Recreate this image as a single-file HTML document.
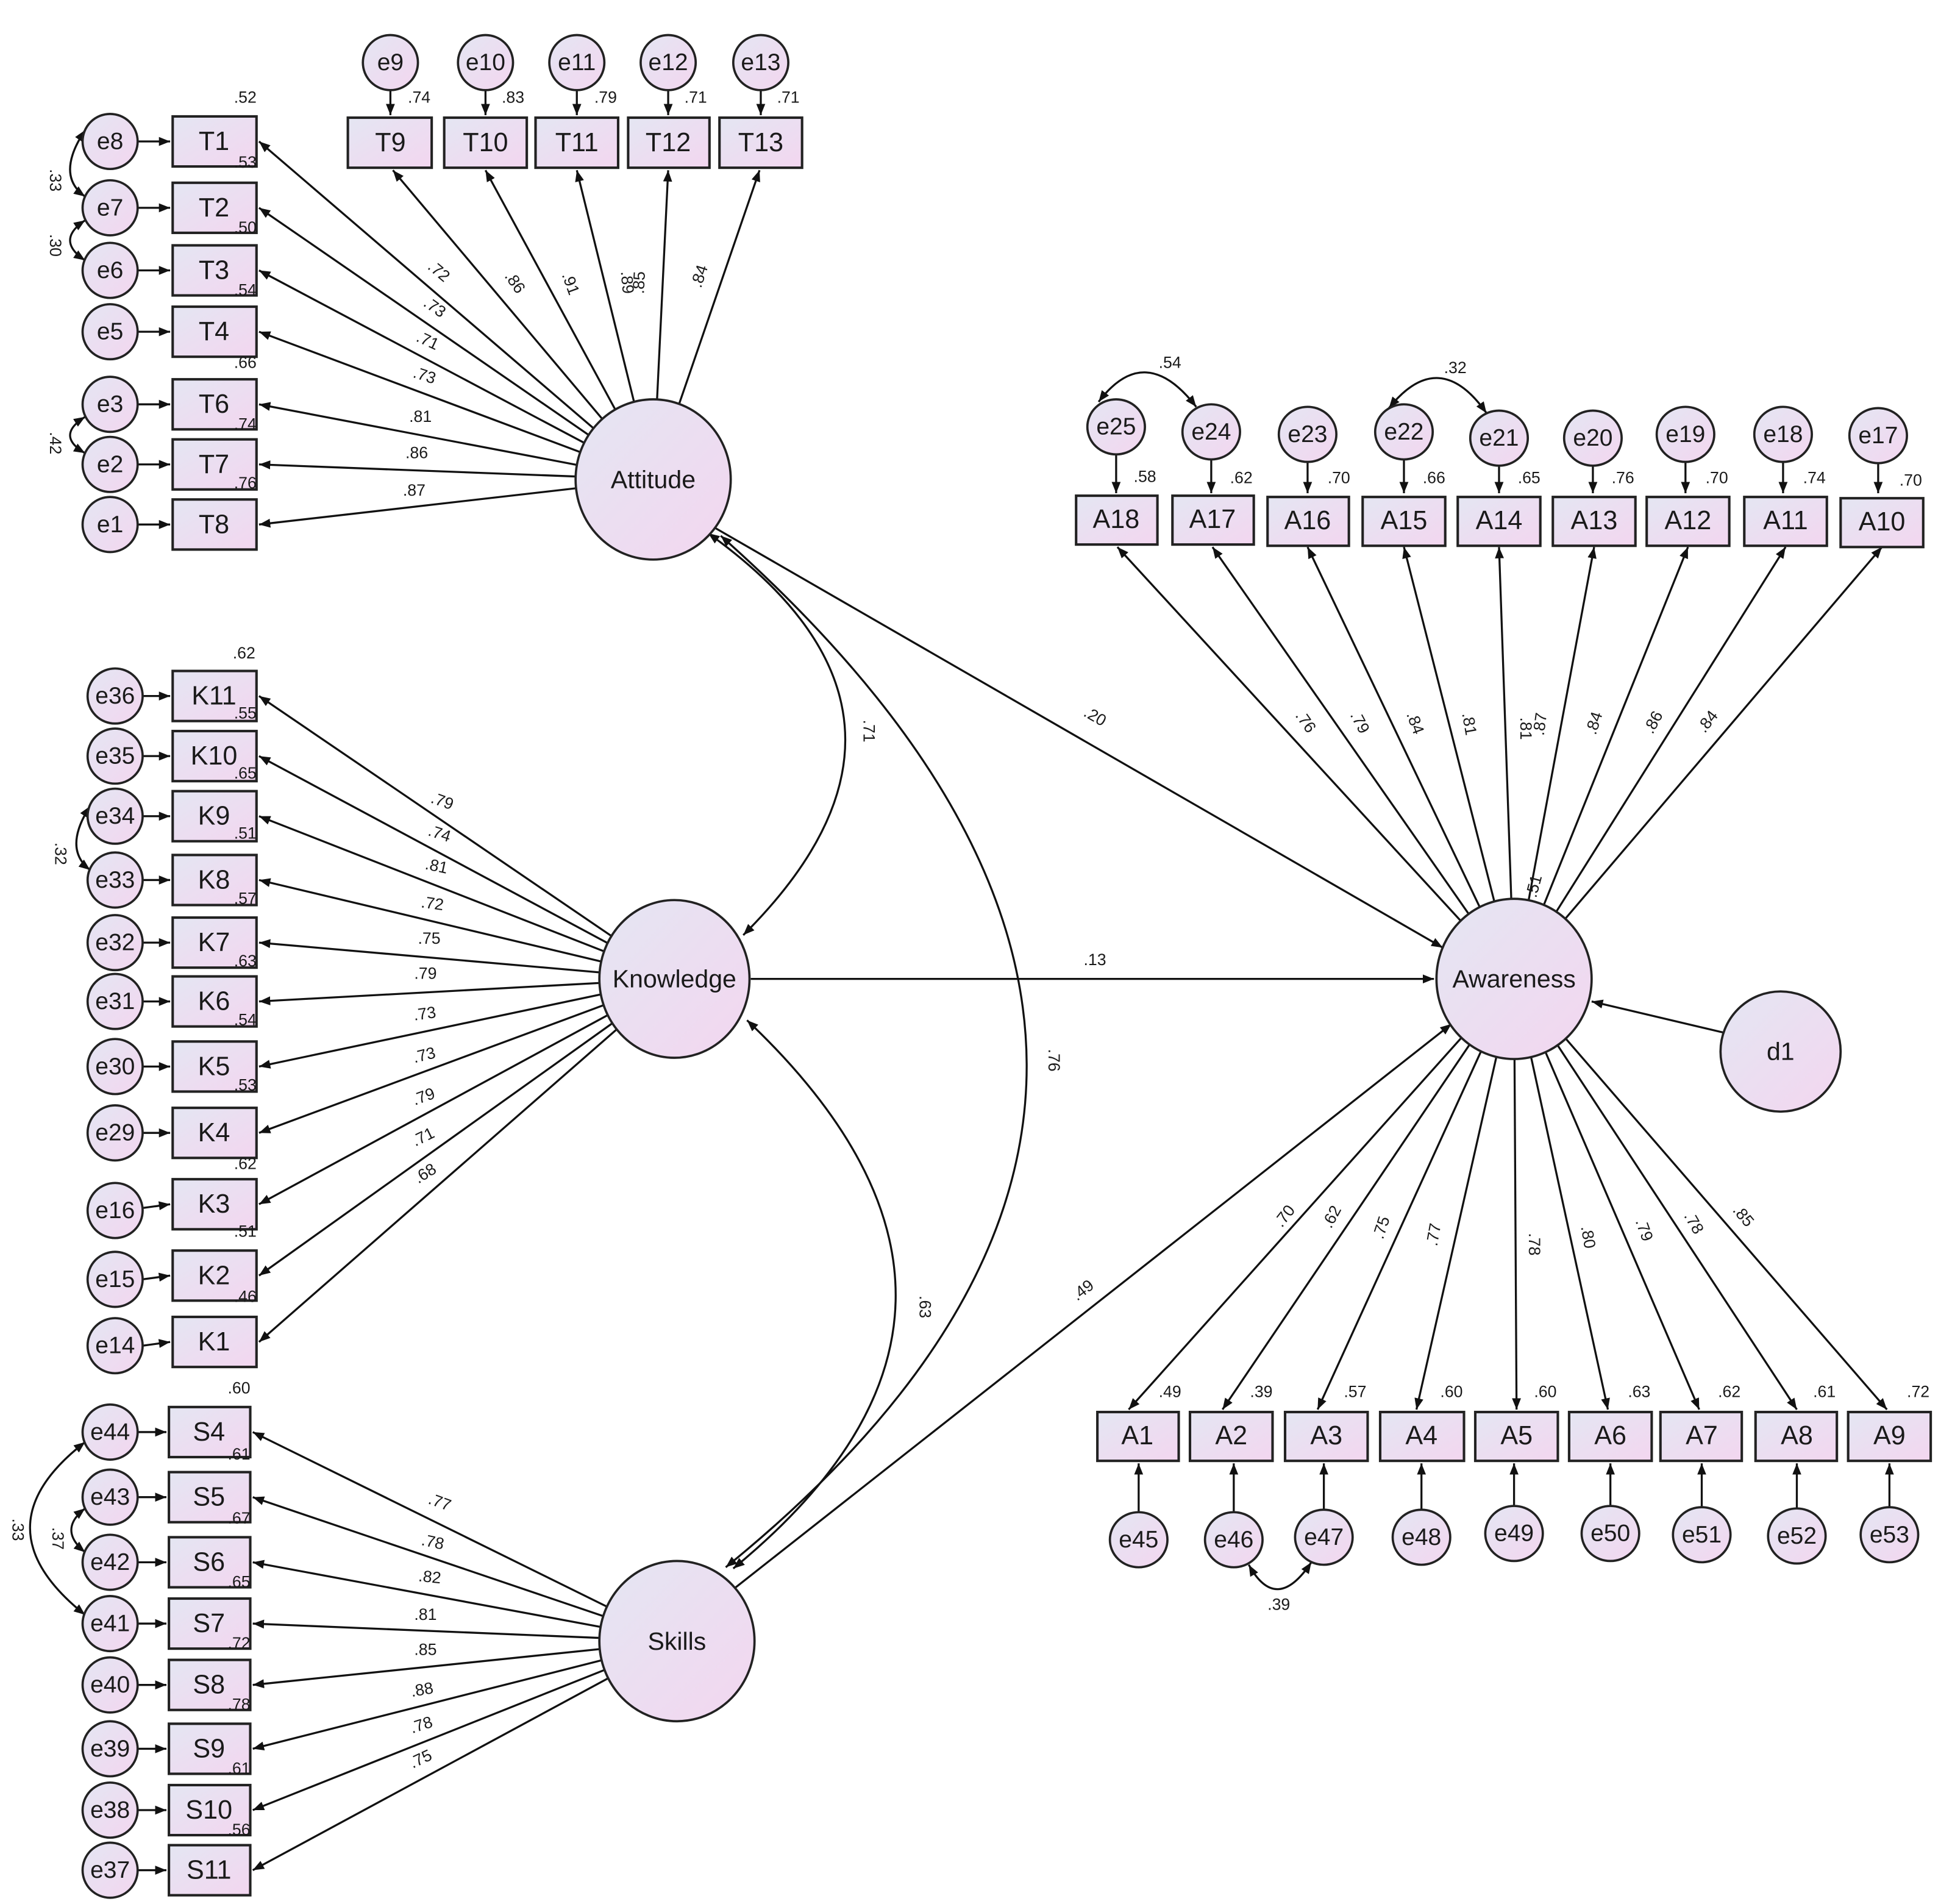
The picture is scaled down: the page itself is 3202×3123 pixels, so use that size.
<!DOCTYPE html>
<html><head><meta charset="utf-8"><style>
html,body{margin:0;padding:0;background:#fff}
svg{display:block}
text{font-family:"Liberation Sans",Arial,sans-serif;fill:#1a1a1a}
.b{font-size:21px;text-anchor:middle;dominant-baseline:central}
.e{font-size:19px;text-anchor:middle;dominant-baseline:central}
.l{font-size:20px;text-anchor:middle;dominant-baseline:central}
.s{font-size:13px;text-anchor:middle;fill:#333}
.ln{stroke:#111;stroke-width:1.6;fill:none}
.bx{fill:url(#g);stroke:#222;stroke-width:2}
.ci{fill:url(#g);stroke:#222;stroke-width:1.8}
</style></head><body>
<svg width="3202" height="3123" viewBox="0 0 1560 1521" preserveAspectRatio="none" xmlns="http://www.w3.org/2000/svg">
<defs>
<linearGradient id="g" x1="0" y1="0" x2="1" y2="1"><stop offset="0" stop-color="#e4e6f2"/><stop offset="1" stop-color="#f3d6f0"/></linearGradient>
<marker id="a" viewBox="0 0 10 10" refX="10" refY="5" markerWidth="9" markerHeight="9" markerUnits="userSpaceOnUse" orient="auto-start-reverse"><path d="M0,1 L10,5 L0,9 z" fill="#111"/></marker>
</defs>
<g class="ln" marker-end="url(#a)">
<line x1="522" y1="383" x2="207" y2="113"/><line x1="522" y1="383" x2="207" y2="166"/><line x1="522" y1="383" x2="207" y2="216"/><line x1="522" y1="383" x2="207" y2="265"/><line x1="522" y1="383" x2="207" y2="323"/><line x1="522" y1="383" x2="207" y2="371"/><line x1="522" y1="383" x2="207" y2="419"/>
<line x1="522" y1="383" x2="314" y2="136"/><line x1="522" y1="383" x2="388" y2="136"/><line x1="522" y1="383" x2="461" y2="136"/><line x1="522" y1="383" x2="534" y2="136"/><line x1="522" y1="383" x2="607" y2="136"/>
<line x1="539" y1="782" x2="207" y2="556"/><line x1="539" y1="782" x2="207" y2="604"/><line x1="539" y1="782" x2="207" y2="652"/><line x1="539" y1="782" x2="207" y2="703"/><line x1="539" y1="782" x2="207" y2="753"/><line x1="539" y1="782" x2="207" y2="800"/><line x1="539" y1="782" x2="207" y2="852"/><line x1="539" y1="782" x2="207" y2="905"/><line x1="539" y1="782" x2="207" y2="962"/><line x1="539" y1="782" x2="207" y2="1019"/><line x1="539" y1="782" x2="207" y2="1072"/>
<line x1="541" y1="1311" x2="202" y2="1144"/><line x1="541" y1="1311" x2="202" y2="1196"/><line x1="541" y1="1311" x2="202" y2="1248"/><line x1="541" y1="1311" x2="202" y2="1297"/><line x1="541" y1="1311" x2="202" y2="1346"/><line x1="541" y1="1311" x2="202" y2="1397"/><line x1="541" y1="1311" x2="202" y2="1446"/><line x1="541" y1="1311" x2="202" y2="1494"/>
<line x1="1210" y1="782" x2="893" y2="437"/><line x1="1210" y1="782" x2="969" y2="437"/><line x1="1210" y1="782" x2="1045" y2="437"/><line x1="1210" y1="782" x2="1122" y2="437"/><line x1="1210" y1="782" x2="1198" y2="437"/><line x1="1210" y1="782" x2="1274" y2="437"/><line x1="1210" y1="782" x2="1349" y2="437"/><line x1="1210" y1="782" x2="1427" y2="437"/><line x1="1210" y1="782" x2="1504" y2="437"/>
<line x1="1210" y1="782" x2="902" y2="1126"/><line x1="1210" y1="782" x2="977" y2="1126"/><line x1="1210" y1="782" x2="1053" y2="1126"/><line x1="1210" y1="782" x2="1132" y2="1126"/><line x1="1210" y1="782" x2="1212" y2="1126"/><line x1="1210" y1="782" x2="1285" y2="1126"/><line x1="1210" y1="782" x2="1358" y2="1126"/><line x1="1210" y1="782" x2="1436" y2="1126"/><line x1="1210" y1="782" x2="1508" y2="1126"/>
<line x1="565" y1="418" x2="1153" y2="757"/><line x1="600" y1="782" x2="1146" y2="782"/><line x1="588" y1="1268" x2="1160" y2="818"/><line x1="1378" y1="825" x2="1272" y2="800"/>
<line x1="110" y1="113" x2="136" y2="113"/><line x1="110" y1="166" x2="136" y2="166"/><line x1="110" y1="216" x2="136" y2="216"/><line x1="110" y1="265" x2="136" y2="265"/><line x1="110" y1="323" x2="136" y2="323"/><line x1="110" y1="371" x2="136" y2="371"/><line x1="110" y1="419" x2="136" y2="419"/>
<line x1="114" y1="556" x2="136" y2="556"/><line x1="114" y1="604" x2="136" y2="604"/><line x1="114" y1="652" x2="136" y2="652"/><line x1="114" y1="703" x2="136" y2="703"/><line x1="114" y1="753" x2="136" y2="753"/><line x1="114" y1="800" x2="136" y2="800"/><line x1="114" y1="852" x2="136" y2="852"/><line x1="114" y1="905" x2="136" y2="905"/><line x1="114" y1="965" x2="136" y2="962"/><line x1="114" y1="1022" x2="136" y2="1019"/><line x1="114" y1="1075" x2="136" y2="1072"/>
<line x1="110" y1="1144" x2="133" y2="1144"/><line x1="110" y1="1196" x2="133" y2="1196"/><line x1="110" y1="1248" x2="133" y2="1248"/><line x1="110" y1="1297" x2="133" y2="1297"/><line x1="110" y1="1346" x2="133" y2="1346"/><line x1="110" y1="1397" x2="133" y2="1397"/><line x1="110" y1="1446" x2="133" y2="1446"/><line x1="110" y1="1494" x2="133" y2="1494"/>
<line x1="312" y1="72" x2="312" y2="92"/><line x1="388" y1="72" x2="388" y2="92"/><line x1="461" y1="72" x2="461" y2="92"/><line x1="534" y1="72" x2="534" y2="92"/><line x1="608" y1="72" x2="608" y2="92"/>
<line x1="892" y1="363" x2="892" y2="394"/><line x1="968" y1="367" x2="968" y2="394"/><line x1="1045" y1="369" x2="1045" y2="394"/><line x1="1122" y1="367" x2="1122" y2="394"/><line x1="1198" y1="372" x2="1198" y2="394"/><line x1="1273" y1="372" x2="1273" y2="394"/><line x1="1347" y1="369" x2="1347" y2="394"/><line x1="1425" y1="369" x2="1425" y2="394"/><line x1="1501" y1="370" x2="1501" y2="394"/>
<line x1="910" y1="1208" x2="910" y2="1169"/><line x1="986" y1="1208" x2="986" y2="1169"/><line x1="1058" y1="1206" x2="1058" y2="1169"/><line x1="1136" y1="1206" x2="1136" y2="1169"/><line x1="1210" y1="1203" x2="1210" y2="1169"/><line x1="1287" y1="1203" x2="1287" y2="1169"/><line x1="1360" y1="1204" x2="1360" y2="1169"/><line x1="1436" y1="1205" x2="1436" y2="1169"/><line x1="1510" y1="1204" x2="1510" y2="1169"/>
</g>
<g class="ln" marker-start="url(#a)" marker-end="url(#a)">
<path d="M566,426 Q770,572 594,747"/>
<path d="M576,428 Q1063,860 580,1252"/>
<path d="M597,815 Q840,1045 586,1253"/>
<path d="M68,104 Q44,140 68,157"/><path d="M68,176 Q44,192 68,208"/><path d="M68,333 Q44,348 68,362"/>
<path d="M72,644 Q50,678 72,695"/>
<path d="M68,1152 Q-20,1220 68,1290"/><path d="M68,1205 Q46,1222 68,1240"/>
<path d="M878,321 Q915,272 956,325"/><path d="M1110,326 Q1150,276 1188,330"/>
<path d="M998,1250 Q1020,1290 1048,1248"/>
</g>
<g class="bx">
<rect x="138" y="93" width="67" height="40"/><rect x="138" y="146" width="67" height="40"/><rect x="138" y="196" width="67" height="40"/><rect x="138" y="245" width="67" height="40"/><rect x="138" y="303" width="67" height="40"/><rect x="138" y="351" width="67" height="40"/><rect x="138" y="399" width="67" height="40"/>
<rect x="278" y="94" width="67" height="40"/><rect x="355" y="94" width="66" height="40"/><rect x="428" y="94" width="66" height="40"/><rect x="502" y="94" width="65" height="40"/><rect x="575" y="94" width="66" height="40"/>
<rect x="138" y="536" width="67" height="40"/><rect x="138" y="584" width="67" height="40"/><rect x="138" y="632" width="67" height="40"/><rect x="138" y="683" width="67" height="40"/><rect x="138" y="733" width="67" height="40"/><rect x="138" y="780" width="67" height="40"/><rect x="138" y="832" width="67" height="40"/><rect x="138" y="885" width="67" height="40"/><rect x="138" y="942" width="67" height="40"/><rect x="138" y="999" width="67" height="40"/><rect x="138" y="1052" width="67" height="40"/>
<rect x="135" y="1124" width="65" height="40"/><rect x="135" y="1176" width="65" height="40"/><rect x="135" y="1228" width="65" height="40"/><rect x="135" y="1277" width="65" height="40"/><rect x="135" y="1326" width="65" height="40"/><rect x="135" y="1377" width="65" height="40"/><rect x="135" y="1426" width="65" height="40"/><rect x="135" y="1474" width="65" height="40"/>
<rect x="860" y="396" width="65" height="39"/><rect x="937" y="396" width="65" height="39"/><rect x="1013" y="397" width="65" height="39"/><rect x="1089" y="397" width="66" height="39"/><rect x="1165" y="397" width="66" height="39"/><rect x="1241" y="397" width="66" height="39"/><rect x="1316" y="397" width="66" height="39"/><rect x="1394" y="397" width="66" height="39"/><rect x="1471" y="398" width="66" height="39"/>
<rect x="877" y="1128" width="65" height="39"/><rect x="951" y="1128" width="66" height="39"/><rect x="1027" y="1128" width="66" height="39"/><rect x="1103" y="1128" width="67" height="39"/><rect x="1179" y="1128" width="66" height="39"/><rect x="1254" y="1128" width="66" height="39"/><rect x="1327" y="1128" width="65" height="39"/><rect x="1403" y="1128" width="65" height="39"/><rect x="1477" y="1128" width="66" height="39"/>
</g>
<g class="ci">
<ellipse cx="522" cy="383" rx="62" ry="64"/><ellipse cx="539" cy="782" rx="60" ry="63"/><ellipse cx="541" cy="1311" rx="62" ry="64"/><ellipse cx="1210" cy="782" rx="62" ry="64"/><ellipse cx="1423" cy="840" rx="48" ry="48"/>
<ellipse cx="88" cy="113" rx="22" ry="22"/><ellipse cx="88" cy="166" rx="22" ry="22"/><ellipse cx="88" cy="216" rx="22" ry="22"/><ellipse cx="88" cy="265" rx="22" ry="22"/><ellipse cx="88" cy="323" rx="22" ry="22"/><ellipse cx="88" cy="371" rx="22" ry="22"/><ellipse cx="88" cy="419" rx="22" ry="22"/>
<ellipse cx="312" cy="50" rx="22" ry="22"/><ellipse cx="388" cy="50" rx="22" ry="22"/><ellipse cx="461" cy="50" rx="22" ry="22"/><ellipse cx="534" cy="50" rx="22" ry="22"/><ellipse cx="608" cy="50" rx="22" ry="22"/>
<ellipse cx="92" cy="556" rx="22" ry="22"/><ellipse cx="92" cy="604" rx="22" ry="22"/><ellipse cx="92" cy="652" rx="22" ry="22"/><ellipse cx="92" cy="703" rx="22" ry="22"/><ellipse cx="92" cy="753" rx="22" ry="22"/><ellipse cx="92" cy="800" rx="22" ry="22"/><ellipse cx="92" cy="852" rx="22" ry="22"/><ellipse cx="92" cy="905" rx="22" ry="22"/><ellipse cx="92" cy="967" rx="22" ry="22"/><ellipse cx="92" cy="1022" rx="22" ry="22"/><ellipse cx="92" cy="1075" rx="22" ry="22"/>
<ellipse cx="88" cy="1144" rx="22" ry="22"/><ellipse cx="88" cy="1196" rx="22" ry="22"/><ellipse cx="88" cy="1248" rx="22" ry="22"/><ellipse cx="88" cy="1297" rx="22" ry="22"/><ellipse cx="88" cy="1346" rx="22" ry="22"/><ellipse cx="88" cy="1397" rx="22" ry="22"/><ellipse cx="88" cy="1446" rx="22" ry="22"/><ellipse cx="88" cy="1494" rx="22" ry="22"/>
<ellipse cx="892" cy="341" rx="23" ry="22"/><ellipse cx="968" cy="345" rx="23" ry="22"/><ellipse cx="1045" cy="347" rx="23" ry="22"/><ellipse cx="1122" cy="345" rx="23" ry="22"/><ellipse cx="1198" cy="350" rx="23" ry="22"/><ellipse cx="1273" cy="350" rx="23" ry="22"/><ellipse cx="1347" cy="347" rx="23" ry="22"/><ellipse cx="1425" cy="347" rx="23" ry="22"/><ellipse cx="1501" cy="348" rx="23" ry="22"/>
<ellipse cx="910" cy="1230" rx="23" ry="22"/><ellipse cx="986" cy="1230" rx="23" ry="22"/><ellipse cx="1058" cy="1228" rx="23" ry="22"/><ellipse cx="1136" cy="1228" rx="23" ry="22"/><ellipse cx="1210" cy="1225" rx="23" ry="22"/><ellipse cx="1287" cy="1225" rx="23" ry="22"/><ellipse cx="1360" cy="1226" rx="23" ry="22"/><ellipse cx="1436" cy="1227" rx="23" ry="22"/><ellipse cx="1510" cy="1226" rx="23" ry="22"/>
</g>
<text class="l" x="522" y="383">Attitude</text><text class="l" x="539" y="782">Knowledge</text><text class="l" x="541" y="1311">Skills</text><text class="l" x="1210" y="782">Awareness</text><text class="l" x="1423" y="840">d1</text>
<g class="b">
<text x="171" y="113">T1</text><text x="171" y="166">T2</text><text x="171" y="216">T3</text><text x="171" y="265">T4</text><text x="171" y="323">T6</text><text x="171" y="371">T7</text><text x="171" y="419">T8</text>
<text x="312" y="114">T9</text><text x="388" y="114">T10</text><text x="461" y="114">T11</text><text x="534" y="114">T12</text><text x="608" y="114">T13</text>
<text x="171" y="556">K11</text><text x="171" y="604">K10</text><text x="171" y="652">K9</text><text x="171" y="703">K8</text><text x="171" y="753">K7</text><text x="171" y="800">K6</text><text x="171" y="852">K5</text><text x="171" y="905">K4</text><text x="171" y="962">K3</text><text x="171" y="1019">K2</text><text x="171" y="1072">K1</text>
<text x="167" y="1144">S4</text><text x="167" y="1196">S5</text><text x="167" y="1248">S6</text><text x="167" y="1297">S7</text><text x="167" y="1346">S8</text><text x="167" y="1397">S9</text><text x="167" y="1446">S10</text><text x="167" y="1494">S11</text>
<text x="892" y="415">A18</text><text x="969" y="415">A17</text><text x="1045" y="416">A16</text><text x="1122" y="416">A15</text><text x="1198" y="416">A14</text><text x="1274" y="416">A13</text><text x="1349" y="416">A12</text><text x="1427" y="416">A11</text><text x="1504" y="417">A10</text>
<text x="909" y="1147">A1</text><text x="984" y="1147">A2</text><text x="1060" y="1147">A3</text><text x="1136" y="1147">A4</text><text x="1212" y="1147">A5</text><text x="1287" y="1147">A6</text><text x="1360" y="1147">A7</text><text x="1436" y="1147">A8</text><text x="1510" y="1147">A9</text>
</g>
<g class="e">
<text x="88" y="113">e8</text><text x="88" y="166">e7</text><text x="88" y="216">e6</text><text x="88" y="265">e5</text><text x="88" y="323">e3</text><text x="88" y="371">e2</text><text x="88" y="419">e1</text>
<text x="312" y="50">e9</text><text x="388" y="50">e10</text><text x="461" y="50">e11</text><text x="534" y="50">e12</text><text x="608" y="50">e13</text>
<text x="92" y="556">e36</text><text x="92" y="604">e35</text><text x="92" y="652">e34</text><text x="92" y="703">e33</text><text x="92" y="753">e32</text><text x="92" y="800">e31</text><text x="92" y="852">e30</text><text x="92" y="905">e29</text><text x="92" y="967">e16</text><text x="92" y="1022">e15</text><text x="92" y="1075">e14</text>
<text x="88" y="1144">e44</text><text x="88" y="1196">e43</text><text x="88" y="1248">e42</text><text x="88" y="1297">e41</text><text x="88" y="1346">e40</text><text x="88" y="1397">e39</text><text x="88" y="1446">e38</text><text x="88" y="1494">e37</text>
<text x="892" y="341">e25</text><text x="968" y="345">e24</text><text x="1045" y="347">e23</text><text x="1122" y="345">e22</text><text x="1198" y="350">e21</text><text x="1273" y="350">e20</text><text x="1347" y="347">e19</text><text x="1425" y="347">e18</text><text x="1501" y="348">e17</text>
<text x="910" y="1230">e45</text><text x="986" y="1230">e46</text><text x="1058" y="1228">e47</text><text x="1136" y="1228">e48</text><text x="1210" y="1225">e49</text><text x="1287" y="1225">e50</text><text x="1360" y="1226">e51</text><text x="1436" y="1227">e52</text><text x="1510" y="1226">e53</text>
</g>
<g class="s">
<text x="196" y="82">.52</text><text x="196" y="134">.53</text><text x="196" y="186">.50</text><text x="196" y="236">.54</text><text x="196" y="294">.66</text><text x="196" y="343">.74</text><text x="196" y="390">.76</text>
<text x="335" y="82">.74</text><text x="410" y="82">.83</text><text x="484" y="82">.79</text><text x="556" y="82">.71</text><text x="630" y="82">.71</text>
<text x="195" y="526">.62</text><text x="196" y="574">.55</text><text x="196" y="622">.65</text><text x="196" y="670">.51</text><text x="196" y="722">.57</text><text x="196" y="772">.63</text><text x="196" y="819">.54</text><text x="196" y="871">.53</text><text x="196" y="934">.62</text><text x="196" y="988">.51</text><text x="196" y="1040">.46</text>
<text x="191" y="1113">.60</text><text x="191" y="1166">.61</text><text x="191" y="1217">.67</text><text x="191" y="1268">.65</text><text x="191" y="1317">.72</text><text x="191" y="1366">.78</text><text x="191" y="1417">.61</text><text x="191" y="1466">.56</text>
<text x="915" y="385">.58</text><text x="992" y="386">.62</text><text x="1070" y="386">.70</text><text x="1146" y="386">.66</text><text x="1222" y="386">.65</text><text x="1297" y="386">.76</text><text x="1372" y="386">.70</text><text x="1450" y="386">.74</text><text x="1527" y="388">.70</text>
<text x="935" y="294">.54</text><text x="1163" y="298">.32</text>
<text x="935" y="1116">.49</text><text x="1008" y="1116">.39</text><text x="1083" y="1116">.57</text><text x="1160" y="1116">.60</text><text x="1235" y="1116">.60</text><text x="1310" y="1116">.63</text><text x="1382" y="1116">.62</text><text x="1458" y="1116">.61</text><text x="1533" y="1116">.72</text>
<text x="1022" y="1286">.39</text>
<text x="348" y="220" transform="rotate(40 348 220)">.72</text><text x="345" y="249" transform="rotate(35 345 249)">.73</text><text x="340" y="276" transform="rotate(25 340 276)">.71</text><text x="338" y="304" transform="rotate(18 338 304)">.73</text><text x="336" y="337">.81</text><text x="333" y="366">.86</text><text x="331" y="396">.87</text>
<text x="408" y="228" transform="rotate(55 408 228)">.86</text><text x="452" y="228" transform="rotate(70 452 228)">.91</text><text x="497" y="226" transform="rotate(85 497 226)">.89</text><text x="515" y="226" transform="rotate(-87 515 226)">.85</text><text x="563" y="222" transform="rotate(-72 563 222)">.84</text>
<text x="352" y="644" transform="rotate(20 352 644)">.79</text><text x="350" y="670" transform="rotate(18 350 670)">.74</text><text x="348" y="696" transform="rotate(12 348 696)">.81</text><text x="345" y="726" transform="rotate(8 345 726)">.72</text><text x="343" y="754">.75</text><text x="340" y="782">.79</text><text x="340" y="814" transform="rotate(-8 340 814)">.73</text><text x="340" y="847" transform="rotate(-14 340 847)">.73</text><text x="340" y="880" transform="rotate(-20 340 880)">.79</text><text x="340" y="912" transform="rotate(-26 340 912)">.71</text><text x="342" y="941" transform="rotate(-32 342 941)">.68</text>
<text x="350" y="1204" transform="rotate(20 350 1204)">.77</text><text x="345" y="1236" transform="rotate(12 345 1236)">.78</text><text x="343" y="1264" transform="rotate(6 343 1264)">.82</text><text x="340" y="1294">.81</text><text x="340" y="1322">.85</text><text x="338" y="1354" transform="rotate(-10 338 1354)">.88</text><text x="338" y="1382" transform="rotate(-18 338 1382)">.78</text><text x="338" y="1409" transform="rotate(-25 338 1409)">.75</text>
<text x="873" y="576" transform="rotate(30 873 576)">.20</text><text x="875" y="771">.13</text><text x="868" y="1034" transform="rotate(-38 868 1034)">.49</text>
<text x="690" y="584" transform="rotate(90 690 584)">.71</text><text x="838" y="847" transform="rotate(90 838 847)">.76</text><text x="735" y="1044" transform="rotate(90 735 1044)">.63</text>
<text x="40" y="144" transform="rotate(90 40 144)">.33</text><text x="40" y="196" transform="rotate(90 40 196)">.30</text><text x="40" y="354" transform="rotate(90 40 354)">.42</text><text x="44" y="682" transform="rotate(90 44 682)">.32</text>
<text x="10" y="1222" transform="rotate(90 10 1222)">.33</text><text x="42" y="1229" transform="rotate(90 42 1229)">.37</text>
<text x="1040" y="579" transform="rotate(55 1040 579)">.76</text><text x="1083" y="579" transform="rotate(62 1083 579)">.79</text><text x="1127" y="579" transform="rotate(70 1127 579)">.84</text><text x="1170" y="579" transform="rotate(80 1170 579)">.81</text><text x="1215" y="582" transform="rotate(90 1215 582)">.81</text><text x="1235" y="579" transform="rotate(-82 1235 579)">.87</text><text x="1278" y="579" transform="rotate(-72 1278 579)">.84</text><text x="1325" y="579" transform="rotate(-62 1325 579)">.86</text><text x="1368" y="579" transform="rotate(-52 1368 579)">.84</text>
<text x="1230" y="709" transform="rotate(-75 1230 709)">.51</text>
<text x="1030" y="974" transform="rotate(-52 1030 974)">.70</text><text x="1068" y="974" transform="rotate(-62 1068 974)">.62</text><text x="1108" y="982" transform="rotate(-72 1108 982)">.75</text><text x="1150" y="987" transform="rotate(-80 1150 987)">.77</text><text x="1222" y="994" transform="rotate(90 1222 994)">.78</text><text x="1265" y="989" transform="rotate(80 1265 989)">.80</text><text x="1310" y="984" transform="rotate(70 1310 984)">.79</text><text x="1350" y="979" transform="rotate(60 1350 979)">.78</text><text x="1390" y="974" transform="rotate(50 1390 974)">.85</text>
</g>
</svg>
</body></html>
